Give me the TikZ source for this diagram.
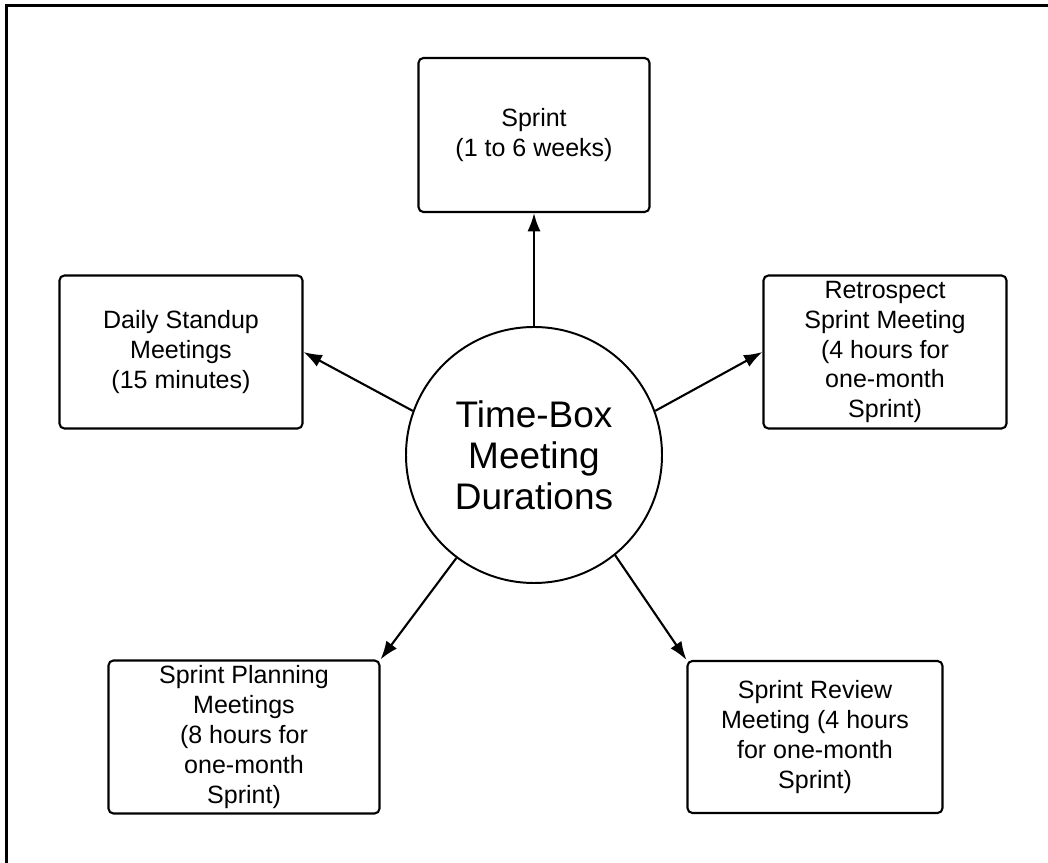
\documentclass[tikz,border=0pt]{standalone}
\usepackage{fontspec}
\setmainfont{Liberation Sans}
\usetikzlibrary{arrows.meta,shapes,positioning}

\begin{document}
\begin{tikzpicture}[shorten >=0pt, on grid, >={Latex[length=4.6mm,width=3.3mm]},
                every node/.style={font=\fontsize{17.8}{21.3}\selectfont, align=center},
                meeting/.style={rectangle, draw, rounded corners=3.5pt, line width=1.5pt, minimum height=3.825cm},
                hubnode/.style={circle, draw, line width=1.4pt, minimum size=6.4cm, inner sep=0pt, font=\fontsize{26.3}{29.2}\selectfont}]
                \useasboundingbox (0,0) rectangle (26.2,-21.575);
                % frame
                \draw[line width=2.1pt] (0.1625,-21.575) -- (0.1625,-0.1375) -- (26.2,-0.1375);
                \node[hubnode] (hub) at (13.35,-11.375) {Time-Box\\Meeting\\Durations};
                \node[meeting, minimum width=5.775cm, minimum height=3.85cm, above=8cm of hub] (sprint) {Sprint\\(1 to 6 weeks)};
                \node[meeting, minimum width=6.075cm, above left=2.575cm and 8.825cm of hub] (daily) {Daily Standup\\Meetings\\(15 minutes)};
                \node[meeting, minimum width=6.075cm, above right=2.575cm and 8.775cm of hub] (retro) {Retrospect\\Sprint Meeting\\(4 hours for\\one-month\\Sprint)};
                \node[meeting, minimum width=6.775cm, below left=7.05cm and 7.25cm of hub] (planning) {Sprint Planning\\Meetings\\(8 hours for\\one-month\\Sprint)};
                \node[meeting, minimum width=6.375cm, minimum height=3.8cm, below right=7.05cm and 7.025cm of hub] (review) {Sprint Review\\Meeting (4 hours\\for one-month\\Sprint)};

                \path[->, line width=1.5pt]
                          (hub.north) edge (sprint.south)
                          (hub.160) edge (daily.east)
                          (hub.20) edge (retro.west)
                          (hub.233) edge (planning.north east)
                          (hub.309) edge (review.north west);
\end{tikzpicture}
\end{document}
